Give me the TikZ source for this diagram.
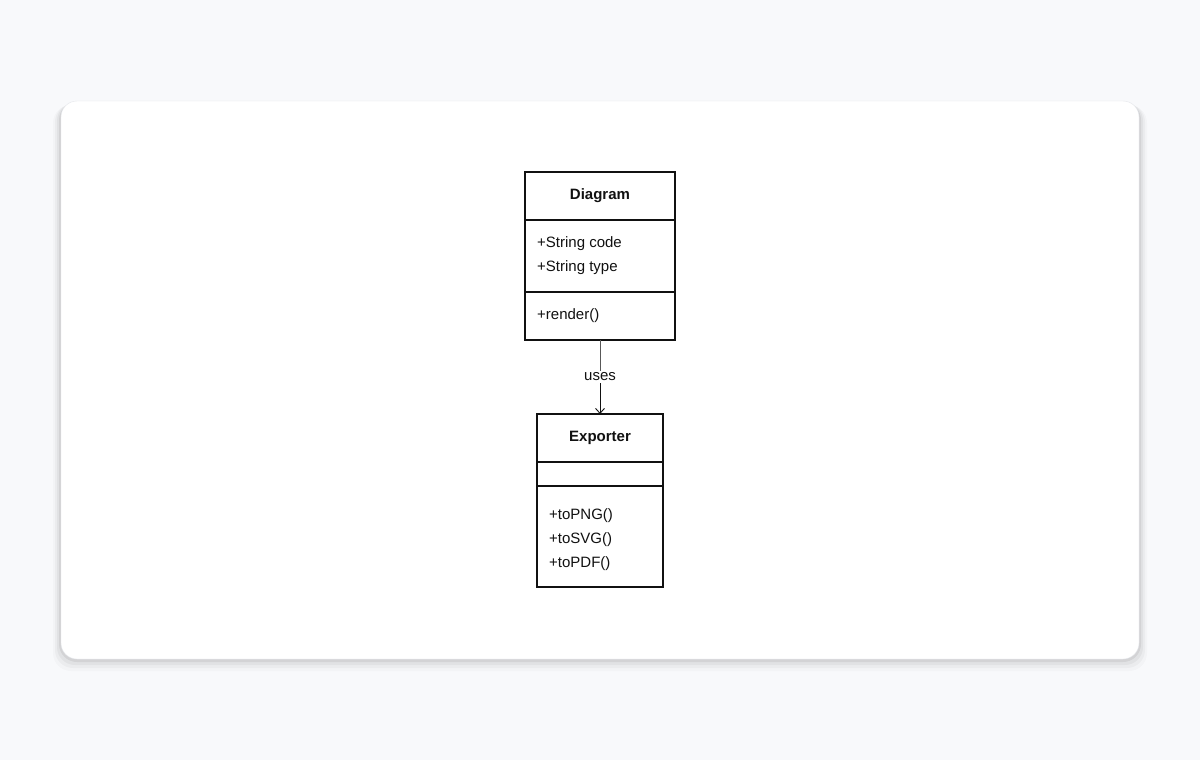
\documentclass[tikz,border=0pt]{standalone}
\usepackage{fontspec}
\setmainfont{Liberation Sans}
\usetikzlibrary{arrows.meta}
\definecolor{bg}{HTML}{F8F9FB}
\definecolor{cardline}{HTML}{E4E6EA}
\definecolor{ink}{HTML}{111111}
\begin{document}
\begin{tikzpicture}[x=1pt,y=-1pt,
  txt/.style={font=\fontsize{15}{18}\selectfont,text=ink,inner sep=0pt},
  ttl/.style={txt,font=\fontsize{15}{18}\selectfont\bfseries},
  box/.style={draw=ink,line width=1.2pt}]
\fill[bg] (0,0) rectangle (1200,760);
\useasboundingbox (0,0) rectangle (1200,760);
\foreach \i/\o in {1/0.06,2/0.04,3/0.03,4/0.02}
  \fill[black,opacity=\o,rounded corners=18] (61-\i*2,101+\i*1) rectangle (1139+\i*2,659+\i*3);
\draw[cardline,fill=white,rounded corners=16] (61,101) rectangle (1139,659);
% Diagram
\draw[box] (525,172) rectangle (675,340);
\draw[box] (525,220) -- (675,220);
\draw[box] (525,292) -- (675,292);
\node[ttl] (dt) at (600,196) {Diagram};
\node[txt,anchor=west] (a1) at (537,244) {+String code};
\node[txt,anchor=west] (a2) at (537,268) {+String type};
\node[txt,anchor=west] (m1) at (537,316) {+render()};
\coordinate (dbot) at (600,340);
% Exporter
\draw[box] (537,414) rectangle (663,587);
\draw[box] (537,462) -- (663,462);
\draw[box] (537,486) -- (663,486);
\node[ttl] (et) at (600,438) {Exporter};
\node[txt,anchor=west] (e1) at (549,516) {+toPNG()};
\node[txt,anchor=west] (e2) at (549,540) {+toSVG()};
\node[txt,anchor=west] (e3) at (549,564) {+toPDF()};
\coordinate (etop) at (600,414);
\node[txt,fill=white,inner sep=2pt] (uses) at (600,377) {uses};
\draw[ink!70,line width=0.9pt] (dbot) -- (uses.north);
\draw[ink,line width=0.9pt,-{Straight Barb[length=5pt,width=9pt]}] (uses.south) -- (etop);
\end{tikzpicture}
\end{document}
